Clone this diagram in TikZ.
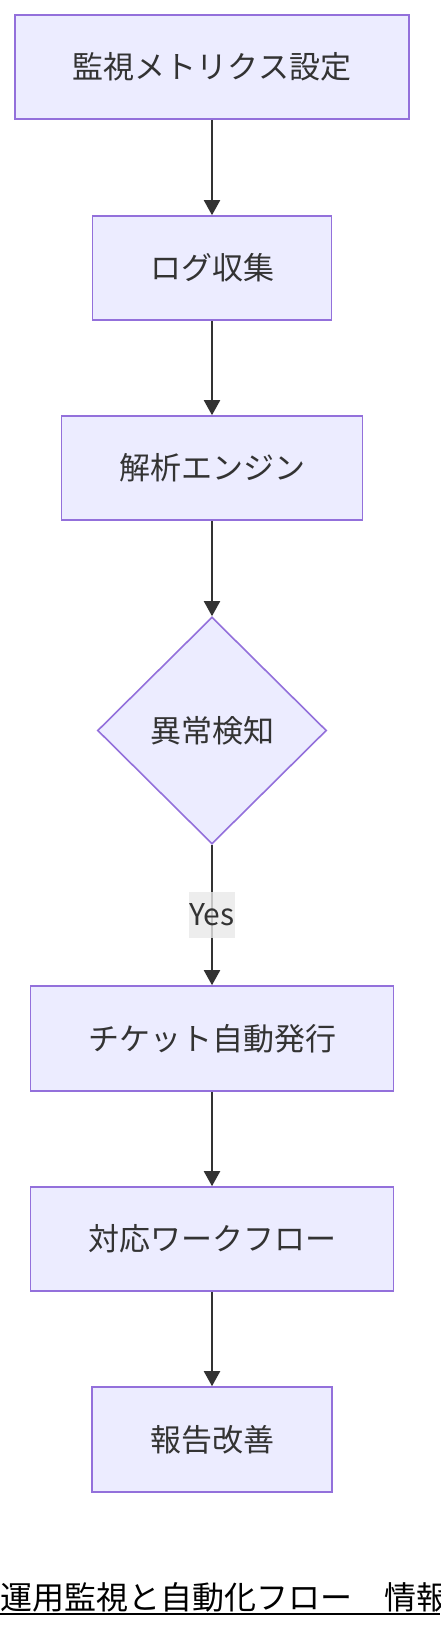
\documentclass[tikz,border=0pt]{standalone}
\usepackage{fontspec}
\setmainfont{Noto Sans CJK JP}
\usetikzlibrary{shapes.geometric,arrows.meta}
\definecolor{nodefill}{HTML}{ECECFF}
\definecolor{nodeline}{HTML}{9370DB}
\definecolor{edgecol}{HTML}{333333}
\definecolor{lblfill}{HTML}{E8E8E8}
\tikzset{
  boxnode/.style={draw=nodeline, fill=nodefill, line width=1.6pt, rectangle, inner sep=0pt,
    text=edgecol, font=\fontsize{31}{37}\selectfont, minimum height=104pt},
  decnode/.style={draw=nodeline, fill=nodefill, line width=1.6pt, diamond, inner sep=0pt,
    text=edgecol, font=\fontsize{31}{37}\selectfont, minimum width=229pt, minimum height=227pt},
  flowedge/.style={draw=edgecol, line width=2pt, -{Triangle[length=15pt,width=16pt]}},
  edgelbl/.style={fill=lblfill, fill opacity=0.8, text opacity=1, text=edgecol, inner sep=0pt,
    minimum width=44pt, minimum height=46pt, font=\fontsize{30}{36}\selectfont}
}
\begin{document}
\begin{tikzpicture}[x=1pt,y=-1pt]
\useasboundingbox (0,0) rectangle (440,1628);
\node[boxnode, minimum width=394pt] (n1) at (212,67) {監視メトリクス設定};
\node[boxnode, minimum width=239pt] (n2) at (212,268) {ログ収集};
\node[boxnode, minimum width=301pt] (n3) at (212,468) {解析エンジン};
\node[decnode] (n4) at (212,730.5) {異常検知};
\node[boxnode, minimum width=363pt, minimum height=105pt] (n5) at (212,1038.5) {チケット自動発行};
\node[boxnode, minimum width=363pt] (n6) at (212,1239) {対応ワークフロー};
\node[boxnode, minimum width=240pt, minimum height=105pt] (n7) at (212,1439.5) {報告改善};
\draw[flowedge] (n1) -- (n2);
\draw[flowedge] (n2) -- (n3);
\draw[flowedge] (n3) -- (n4);
\draw[flowedge] (n4) -- node[edgelbl] (yes) {Yes} (n5);
\draw[flowedge] (n5) -- (n6);
\draw[flowedge] (n6) -- (n7);
\node[anchor=base west, inner sep=0pt, font=\fontsize{32}{38}\selectfont, text=black] (title) at (0,1609) {運用監視と自動化フロー　情報};
\draw[line width=2pt, black] (0,1613.5) -- (440,1613.5);
\end{tikzpicture}
\end{document}
